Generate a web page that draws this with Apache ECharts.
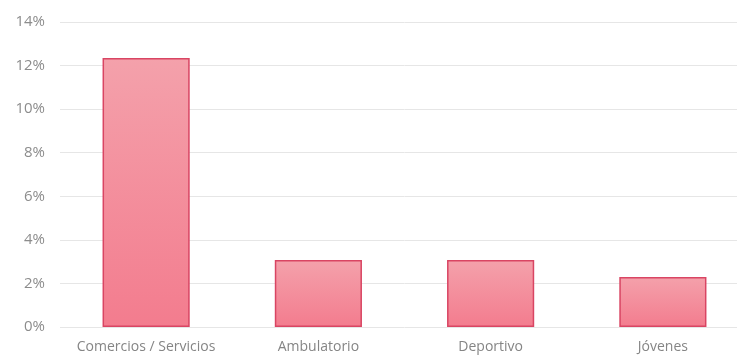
<!DOCTYPE html>
<html><head><meta charset="utf-8">
<script src="https://cdn.jsdelivr.net/npm/echarts@6/dist/echarts.min.js"></script>
<style>html,body{margin:0;padding:0;background:#fff;overflow:hidden}#c{width:749px;height:356px}</style>
</head><body><div id="c"></div>
<script>
const categories = ["Comercios / Servicios", "Ambulatorio", "Deportivo", "Jóvenes"];
const values = [0.1235, 0.0308, 0.0308, 0.0230];
const yTicks = [0, 0.02, 0.04, 0.06, 0.08, 0.10, 0.12, 0.14];

const chart = echarts.init(document.getElementById('c'));
chart.setOption({
  animation: false,
  grid: { left: 60, right: 0, top: 22, bottom: 29 },
  xAxis: {
    type: 'category', data: categories,
    axisLine: { show: false }, axisTick: { show: false },
    axisLabel: { interval: 0, hideOverlap: false, color: '#858585', fontFamily: 'Open Sans', fontSize: 14, margin: 13 }
  },
  yAxis: {
    type: 'value', min: yTicks[0], max: yTicks[yTicks.length - 1], interval: 0.02,
    axisLine: { show: false }, axisTick: { show: false },
    splitLine: { lineStyle: { color: '#e6e6e6', width: 1 } },
    axisLabel: { color: '#8c8c8c', fontFamily: 'Open Sans', fontSize: 15, margin: 15,
      formatter: v => Math.round(v * 100) + '%' }
  },
  series: [{
    type: 'bar', data: values, barWidth: '50.6%',
    itemStyle: {
      color: new echarts.graphic.LinearGradient(0, 0, 0, 1, [
        { offset: 0, color: '#f4a1ab' },
        { offset: 1, color: '#f37c8e' }
      ]),
      borderColor: '#d94563', borderWidth: 1.5
    }
  }]
});
</script></body></html>
